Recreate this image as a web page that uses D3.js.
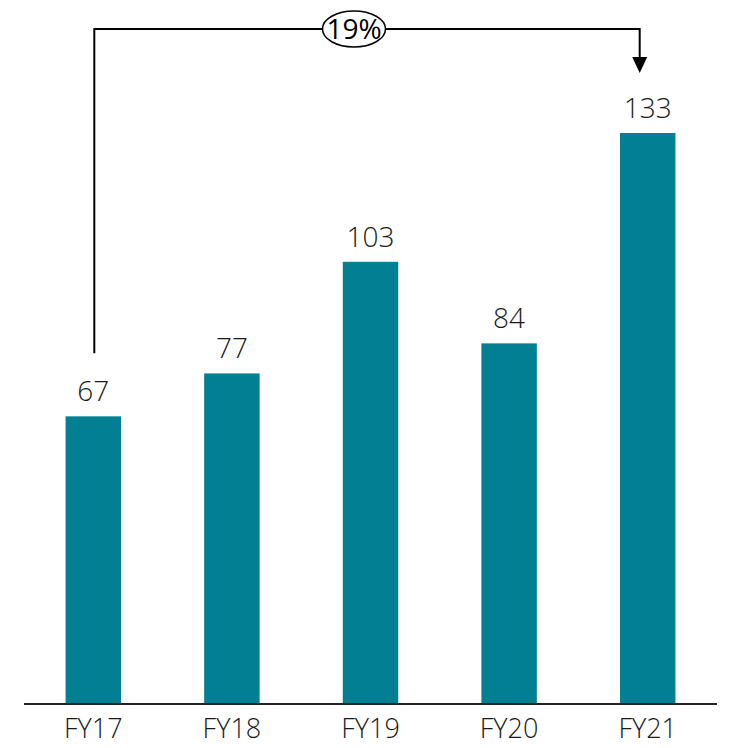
<!DOCTYPE html>
<html>
<head>
<meta charset="utf-8">
<script src="https://cdn.jsdelivr.net/npm/d3@7"></script>
<style>
  html, body { margin: 0; padding: 0; background: #fff; }
  svg text { font-family: "Open Sans", "Noto Sans", sans-serif; }
</style>
</head>
<body>
<div id="chart"></div>
<script>
const years = ['FY17', 'FY18', 'FY19', 'FY20', 'FY21'];
const values = [67, 77, 103, 84, 133];
const cagrLabel = '19%';

const width = 733, height = 748;
const baseY = 704;

const svg = d3.select('#chart').append('svg')
  .attr('width', width)
  .attr('height', height);

const x = d3.scaleBand()
  .domain(years)
  .range([24, 717])
  .paddingInner(0.6)
  .paddingOuter(0.3);

const y = d3.scaleLinear()
  .domain([0, 133])
  .range([baseY, 133]);

// bars
svg.selectAll('.bar')
  .data(values)
  .enter().append('rect')
  .attr('class', 'bar')
  .attr('x', (d, i) => x(years[i]))
  .attr('y', d => y(d))
  .attr('width', x.bandwidth())
  .attr('height', d => baseY - y(d))
  .attr('fill', '#027f93');

// value labels
svg.selectAll('.val')
  .data(values)
  .enter().append('text')
  .attr('class', 'val')
  .attr('x', (d, i) => x(years[i]) + x.bandwidth() / 2)
  .attr('y', d => y(d) - 15)
  .attr('text-anchor', 'middle')
  .attr('font-size', 28)
  .attr('font-weight', 300)
  .attr('fill', '#1a1a1a')
  .text(d => d);

// x axis
const axis = svg.append('g')
  .attr('transform', `translate(0,${baseY})`)
  .call(d3.axisBottom(x).tickSize(0).tickPadding(15));
axis.select('.domain')
  .attr('d', `M24,0H717`)
  .attr('stroke', '#222')
  .attr('stroke-width', 2);
axis.selectAll('text')
  .attr('font-size', 27)
  .attr('font-weight', 300)
  .attr('fill', '#1a1a1a')
  .attr('font-family', '"Open Sans", "Noto Sans", sans-serif');

// CAGR connector (arrow lands a little left of the last bar's centre)
const x0 = x(years[0]) + x.bandwidth() / 2 + 1;
const x1 = x(years[years.length - 1]) + x.bandwidth() / 2 - 8;
const topY = 29;

svg.append('path')
  .attr('d', `M${x0},${y(values[0]) - 63}V${topY}H${x1}V58`)
  .attr('fill', 'none')
  .attr('stroke', '#000')
  .attr('stroke-width', 2);

svg.append('path')
  .attr('d', `M${x1 - 7.5},57L${x1 + 7.5},57L${x1},73Z`)
  .attr('fill', '#000');

svg.append('ellipse')
  .attr('cx', 354)
  .attr('cy', topY)
  .attr('rx', 31.5)
  .attr('ry', 18)
  .attr('fill', '#fff')
  .attr('stroke', '#000')
  .attr('stroke-width', 1.5);

svg.append('text')
  .attr('x', 354)
  .attr('y', topY)
  .attr('dy', '0.35em')
  .attr('text-anchor', 'middle')
  .attr('font-size', 28)
  .attr('fill', '#000')
  .text(cagrLabel);
</script>
</body>
</html>
